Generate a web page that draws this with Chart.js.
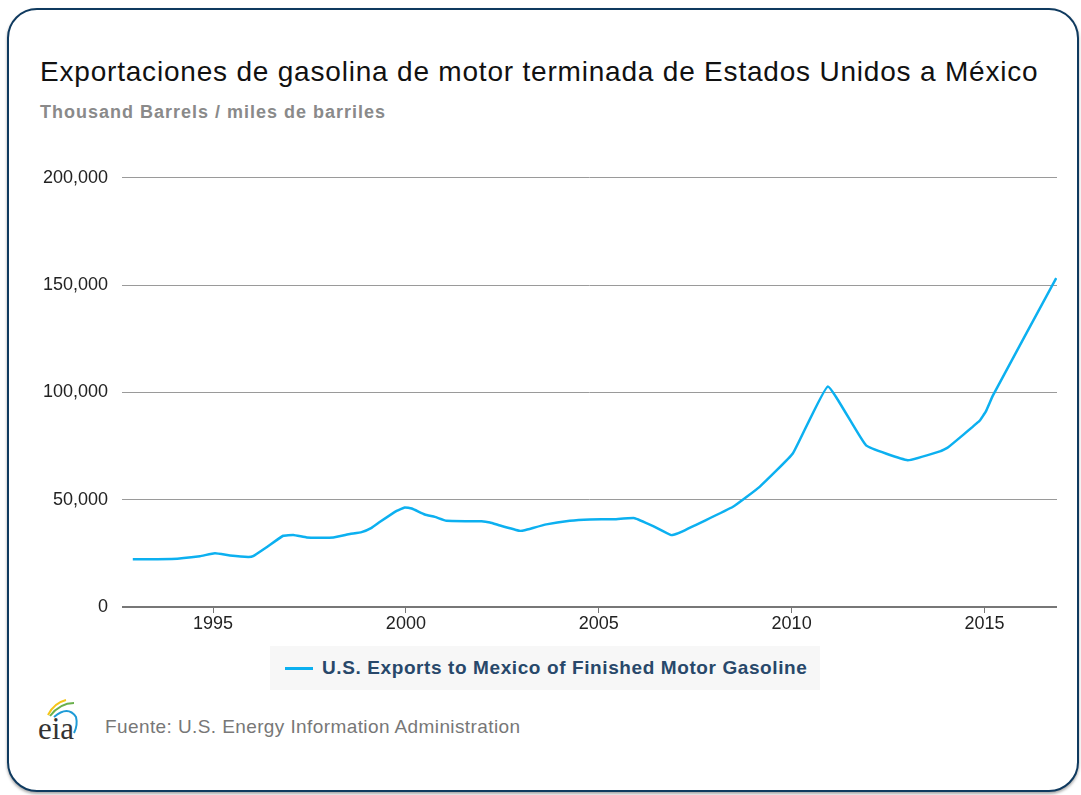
<!DOCTYPE html>
<html>
<head>
<meta charset="utf-8">
<script src="https://cdn.jsdelivr.net/npm/chart.js@4.4.1/dist/chart.umd.min.js"></script>
<style>
  html, body { margin:0; padding:0; background:#fff; }
  body { width:1081px; height:795px; position:relative; overflow:hidden; font-family:"Liberation Sans", Arial, Helvetica, sans-serif; }
  #card { position:absolute; left:7px; top:8px; width:1068px; height:780px; border:2.5px solid #0f3a5f; border-radius:30px; box-shadow:0 2px 3px rgba(0,0,0,0.35); background:#fff; }
  #title { position:absolute; left:40px; top:56px; font-size:28px; letter-spacing:0.8px; color:#111; white-space:nowrap; }
  #subtitle { position:absolute; left:40px; top:102px; font-size:18px; letter-spacing:1px; font-weight:bold; color:#8a8a8a; white-space:nowrap; }
  #wrap { position:absolute; left:20px; top:153px; width:1045px; height:487px; }
  #legend { position:absolute; left:270px; top:646px; width:550px; height:44px; background:#f7f7f7; }
  #legend .sw { position:absolute; left:15px; top:21px; width:28px; height:3px; background:#0cb0f0; }
  #legend .tx { position:absolute; left:52px; top:11px; font-size:19px; letter-spacing:0.6px; font-weight:bold; color:#28486a; white-space:nowrap; }
  #source { position:absolute; left:105px; top:716px; font-size:19px; letter-spacing:0.4px; color:#777; white-space:nowrap; }
  #logo { position:absolute; left:36px; top:695px; }
</style>
</head>
<body>
<div id="card"></div>
<div id="title">Exportaciones de gasolina de motor terminada de Estados Unidos a México</div>
<div id="subtitle">Thousand Barrels / miles de barriles</div>
<div id="wrap"><canvas id="c" width="1045" height="487"></canvas></div>
<div id="legend"><div class="sw"></div><div class="tx">U.S. Exports to Mexico of Finished Motor Gasoline</div></div>
<svg id="logo" width="48" height="50" viewBox="0 0 48 50">
  <path d="M12 20 Q18 8 30 5" stroke="#f5c518" stroke-width="2" fill="none"/>
  <path d="M14 21 Q24 8 38 8" stroke="#6ab04c" stroke-width="2" fill="none"/>
  <path d="M18 22 Q32 10 40 22 Q42 30 38 38" stroke="#1e9bd7" stroke-width="2" fill="none"/>
  <text x="2" y="44" font-family="'Liberation Serif', 'DejaVu Serif', serif" font-size="31" fill="#333">eia</text>
</svg>
<div id="source">Fuente: U.S. Energy Information Administration</div>
<script>
const years = [1992.92, 1993.93, 1994.66, 1995.05, 1995.44, 1995.91, 1996.04, 1996.4, 1996.82, 1997.08, 1997.43, 1997.77, 1998.12, 1998.55, 1998.85, 1999.11, 1999.33, 1999.76, 1999.97, 2000.15, 2000.49, 2000.75, 2001.05, 2001.57, 2001.96, 2002.18, 2002.44, 2002.95, 2003.08, 2003.64, 2004.25, 2004.77, 2005.37, 2005.93, 2006.41, 2006.88, 2007.05, 2008.48, 2009.17, 2010.03, 2010.94, 2011.93, 2013.01, 2013.87, 2014.05, 2014.87, 2015.04, 2015.22, 2016.86];
const exportsThousandBbl = [22300, 22400, 23700, 25000, 24000, 23300, 23700, 28000, 33200, 33600, 32400, 32300, 32400, 34000, 34900, 36900, 39700, 44800, 46400, 45900, 43100, 42000, 40200, 40000, 40000, 39400, 38000, 35500, 35800, 38500, 40200, 40800, 40900, 41400, 37700, 33500, 34300, 46700, 56000, 71500, 102800, 75300, 68400, 72700, 74300, 86700, 91300, 98600, 153300];
const xTickYears = [1995, 2000, 2005, 2010, 2015];
const yTickValues = [0, 50000, 100000, 150000, 200000];
const seriesName = "U.S. Exports to Mexico of Finished Motor Gasoline";

const points = years.map((y, i) => ({ x: y, y: exportsThousandBbl[i] }));
const FONT = '"Liberation Sans", Arial, Helvetica, sans-serif';

new Chart(document.getElementById('c'), {
  type: 'line',
  data: { datasets: [{ label: seriesName, data: points, borderColor: '#0cb0f0', borderWidth: 2.5, pointRadius: 0, tension: 0.1, fill: false }] },
  options: {
    responsive: false, animation: false,
    layout: { padding: { top: 10, right: 8, bottom: 0, left: 0 } },
    plugins: { legend: { display: false }, tooltip: { enabled: false } },
    scales: {
      x: {
        type: 'linear', min: 1992.64, max: 2016.88,
        afterBuildTicks: s => { s.ticks = xTickYears.map(v => ({ value: v })); },
        afterFit: s => { s.height = 33; },
        grid: { drawOnChartArea: false, drawTicks: true, tickLength: 6, color: '#777' },
        border: { display: false },
        ticks: { padding: 0, color: '#222', font: { family: FONT, size: 18 }, maxRotation: 0, callback: v => String(v) }
      },
      y: {
        min: 0, max: 200000,
        afterBuildTicks: s => { s.ticks = yTickValues.map(v => ({ value: v })); },
        afterFit: s => { s.width = 102; },
        grid: { drawTicks: false, color: c => c.tick && c.tick.value === 0 ? '#777' : '#9a9a9a', lineWidth: c => c.tick && c.tick.value === 0 ? 2 : 1 },
        border: { display: false },
        ticks: { padding: 14, color: '#222', font: { family: FONT, size: 18 }, callback: v => v.toLocaleString('en-US') }
      }
    }
  }
});
</script>
</body>
</html>
